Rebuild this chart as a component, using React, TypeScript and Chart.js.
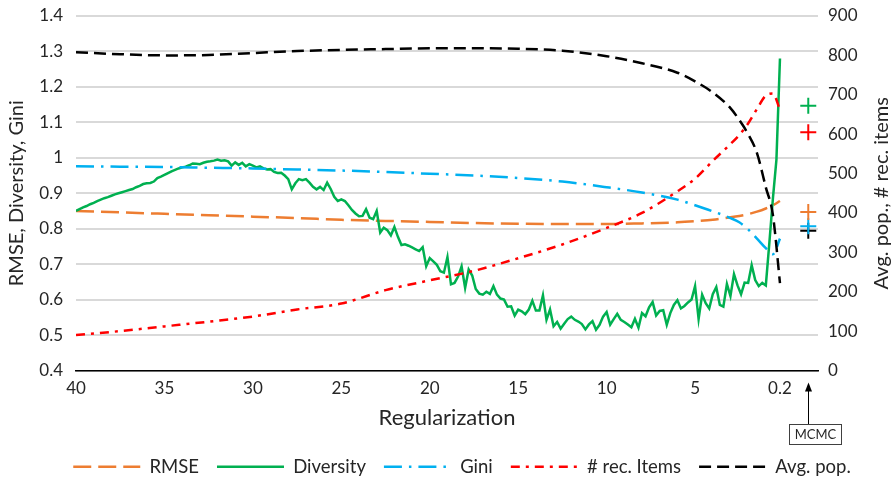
import React, { useEffect, useRef } from "react";
import { Chart, registerables } from "chart.js";

Chart.register(...registerables);

// Regularization values at which the smooth metrics were sampled
const REG_STEPS = [40, 37.5, 35, 32.5, 30, 27.5, 25, 22.5, 20, 17.5, 15, 12.5, 10, 8, 6, 5, 4, 3, 2.5, 2, 1.5, 1, 0.6, 0.2];

const RMSE = [0.85, 0.846, 0.842, 0.838, 0.834, 0.83, 0.825, 0.822, 0.819, 0.816, 0.814, 0.813, 0.813, 0.815, 0.818, 0.821, 0.825, 0.832, 0.836, 0.841, 0.848, 0.857, 0.866, 0.878];
const GINI = [0.976, 0.975, 0.974, 0.972, 0.97, 0.967, 0.964, 0.96, 0.955, 0.95, 0.943, 0.933, 0.917, 0.902, 0.882, 0.866, 0.849, 0.83, 0.818, 0.798, 0.772, 0.745, 0.728, 0.772];
const REC_ITEMS = [90, 100, 112, 124, 137, 155, 170, 204, 229, 253, 285, 320, 362, 400, 455, 487, 532, 575, 598, 627, 664, 698, 703, 662];
const AVG_POP = [808, 803, 800, 801, 806, 811, 814, 816, 818, 818, 817, 812, 798, 780, 756, 734, 706, 666, 636, 600, 552, 465, 395, 222];

// Diversity is sampled on the full grid: 40, 39.8, ..., 0.2
const DIV_START = 40;
const DIV_STEP = 0.2;
const DIVERSITY = [
  0.85, 0.855, 0.86, 0.864, 0.869, 0.873, 0.878, 0.882, 0.886, 0.889,
  0.893, 0.897, 0.9, 0.903, 0.906, 0.909, 0.912, 0.917, 0.921, 0.926,
  0.928, 0.929, 0.933, 0.943, 0.947, 0.952, 0.957, 0.962, 0.966, 0.97,
  0.973, 0.975, 0.979, 0.984, 0.983, 0.982, 0.986, 0.989, 0.99, 0.992,
  0.995, 0.992, 0.993, 0.99, 0.978, 0.987, 0.98, 0.986, 0.976, 0.982,
  0.978, 0.973, 0.976, 0.97, 0.967, 0.968, 0.96, 0.957, 0.958, 0.95,
  0.94, 0.911, 0.928, 0.94, 0.937, 0.94, 0.93, 0.918, 0.911, 0.918,
  0.909, 0.93, 0.912, 0.89, 0.878, 0.883, 0.878, 0.866, 0.853, 0.843,
  0.835, 0.836, 0.855, 0.831, 0.827, 0.85, 0.789, 0.803, 0.796, 0.781,
  0.805, 0.777, 0.754, 0.756, 0.752, 0.747, 0.742, 0.737, 0.748, 0.694,
  0.717, 0.708, 0.698, 0.68, 0.676, 0.72, 0.643, 0.647, 0.665, 0.694,
  0.633, 0.685, 0.668, 0.63, 0.617, 0.614, 0.622, 0.616, 0.638, 0.614,
  0.603, 0.6, 0.58, 0.581, 0.555, 0.572, 0.567, 0.559, 0.572, 0.597,
  0.569, 0.569, 0.612, 0.543, 0.572, 0.525, 0.537, 0.518, 0.532, 0.545,
  0.552, 0.543, 0.538, 0.531, 0.516, 0.53, 0.539, 0.515, 0.529, 0.552,
  0.565, 0.529, 0.545, 0.56, 0.543, 0.537, 0.53, 0.522, 0.546, 0.521,
  0.562, 0.553, 0.578, 0.593, 0.555, 0.568, 0.57, 0.529, 0.562, 0.585,
  0.598, 0.575, 0.582, 0.592, 0.6, 0.638, 0.545, 0.614, 0.59, 0.575,
  0.615, 0.635, 0.585, 0.58, 0.644, 0.61, 0.672, 0.64, 0.615, 0.648,
  0.647, 0.697, 0.655, 0.638, 0.647, 0.64, 0.76, 0.885, 0.995, 1.28,
];

const X_TICKS = [40, 35, 30, 25, 20, 15, 10, 5, 0.2];

// MCMC reference results, placed to the right of the regularization sweep
const MCMC_X = -1.4;
const MCMC_RMSE = 0.847;
const MCMC_DIVERSITY = 1.147;
const MCMC_GINI = 0.807;
const MCMC_REC_ITEMS = 605;
const MCMC_AVG_POP = 355;

const FONT = "Lato, 'Liberation Sans', sans-serif";
const TEXT = "#262626";

const ORANGE = "#ED7D31";
const GREEN = "#00B050";
const BLUE = "#00B0F0";
const RED = "#FF0000";
const BLACK = "#000000";

const pairs = (xs: number[], ys: number[]) => ys.map((y, i) => ({ x: xs[i], y }));

const extras = {
  id: "extras",
  afterLayout(chart: any) {
    // nudge the legend row a little to the right
    const lg = chart.legend;
    if (lg) {
      lg.left += 15;
      lg.right += 15;
    }
  },
  afterDraw(chart: any) {
    const { ctx, chartArea, scales } = chart;
    ctx.save();
    // right axis title, reading bottom to top
    ctx.fillStyle = TEXT;
    ctx.font = `20px ${FONT}`;
    ctx.textAlign = "center";
    ctx.textBaseline = "middle";
    ctx.translate(882, (chartArea.top + chartArea.bottom) / 2);
    ctx.rotate(-Math.PI / 2);
    ctx.fillText("Avg. pop., # rec. items", 0, 0);
    ctx.restore();

    // MCMC pointer
    const x = Math.round(scales.x.getPixelForValue(MCMC_X)) + 0.5;
    const y0 = chartArea.bottom;
    ctx.save();
    ctx.strokeStyle = "#000";
    ctx.fillStyle = "#000";
    ctx.lineWidth = 1;
    ctx.beginPath();
    ctx.moveTo(x, y0 + 54);
    ctx.lineTo(x, y0 + 18);
    ctx.stroke();
    ctx.beginPath();
    ctx.moveTo(x, y0 + 12);
    ctx.lineTo(x - 3.5, y0 + 21);
    ctx.lineTo(x + 3.5, y0 + 21);
    ctx.closePath();
    ctx.fill();
    ctx.strokeStyle = "#404040";
    ctx.strokeRect(x - 19, y0 + 54, 52, 20);
    ctx.fillStyle = TEXT;
    ctx.font = `13px ${FONT}`;
    ctx.textAlign = "center";
    ctx.textBaseline = "middle";
    ctx.fillText("MCMC", x + 7, y0 + 64.5);
    ctx.restore();
  },
};

const fixVertical = (width: number) => (s: any) => {
  s.width = width;
  s.paddingTop = 0;
  s.paddingBottom = 0;
};

export default function App() {
  const canvasRef = useRef<HTMLCanvasElement | null>(null);

  useEffect(() => {
    const canvas = canvasRef.current;
    if (!canvas) return;

    const divX = DIVERSITY.map((_, i) => +(DIV_START - i * DIV_STEP).toFixed(1));

    const line = (label: string, data: any[], color: string, dash: number[], axis: string, order: number, smooth: boolean) => ({
      type: "line" as const,
      label,
      data,
      yAxisID: axis,
      borderColor: color,
      backgroundColor: color,
      borderWidth: 2.5,
      borderDash: dash,
      borderCapStyle: "butt" as const,
      pointRadius: 0,
      pointHoverRadius: 0,
      fill: false,
      tension: 0,
      cubicInterpolationMode: smooth ? ("monotone" as const) : ("default" as const),
      order,
    });

    const cross = (label: string, value: number, color: string, axis: string) => ({
      type: "scatter" as const,
      label,
      data: [{ x: MCMC_X, y: value }],
      yAxisID: axis,
      borderColor: color,
      backgroundColor: color,
      pointStyle: "cross" as const,
      pointRadius: 8,
      pointBorderWidth: 2,
      showLine: false,
      order: 0,
    });

    const chart = new Chart(canvas, {
      type: "line",
      data: {
        datasets: [
          line("RMSE", pairs(REG_STEPS, RMSE), ORANGE, [18, 7], "y", 10, true),
          line("Diversity", pairs(divX, DIVERSITY), GREEN, [], "y", 9, false),
          line("Gini", pairs(REG_STEPS, GINI), BLUE, [18, 7, 2.5, 7], "y", 8, true),
          line("# rec. Items", pairs(REG_STEPS, REC_ITEMS), RED, [9, 6, 3, 6], "y2", 7, true),
          line("Avg. pop.", pairs(REG_STEPS, AVG_POP), BLACK, [12, 6], "y2", 6, true),
          cross("MCMC RMSE", MCMC_RMSE, ORANGE, "y"),
          cross("MCMC Diversity", MCMC_DIVERSITY, GREEN, "y"),
          cross("MCMC Gini", MCMC_GINI, BLUE, "y"),
          cross("MCMC # rec. Items", MCMC_REC_ITEMS, RED, "y2"),
          cross("MCMC Avg. pop.", MCMC_AVG_POP, BLACK, "y2"),
        ] as any,
      },
      options: {
        animation: false,
        responsive: true,
        maintainAspectRatio: false,
        layout: { padding: { top: 16, left: 0, right: 0, bottom: -8 } },
        plugins: {
          tooltip: { enabled: false },
          legend: {
            position: "bottom",
            labels: {
              usePointStyle: true,
              pointStyleWidth: 67,
              padding: 18,
              color: TEXT,
              font: { family: FONT, size: 18.5 },
              generateLabels: (c: any) =>
                c.data.datasets.slice(0, 5).map((ds: any, i: number) => ({
                  text: ds.label,
                  strokeStyle: ds.borderColor,
                  fillStyle: ds.borderColor,
                  lineWidth: ds.borderWidth,
                  lineDash: ds.borderDash,
                  lineCap: "butt",
                  pointStyle: "line",
                  hidden: false,
                  datasetIndex: i,
                  fontColor: TEXT,
                })),
            },
          },
        },
        scales: {
          x: {
            type: "linear",
            reverse: true,
            min: -1.95,
            max: 40,
            afterBuildTicks: (s: any) => {
              s.ticks = X_TICKS.map((v) => ({ value: v }));
            },
            afterFit: (s: any) => {
              s.height = 69;
            },
            grid: { display: false, drawTicks: false },
            border: { display: true, color: "#000", width: 1.5 },
            ticks: {
              padding: 8,
              maxRotation: 0,
              autoSkip: false,
              color: TEXT,
              font: { family: FONT, size: 17 },
              callback: (v: any) => String(v),
            },
            title: {
              display: true,
              text: "Regularization",
              color: TEXT,
              font: { family: FONT, size: 22 },
              padding: { top: 0, bottom: 8 },
            },
          },
          y: {
            position: "left",
            min: 0.4,
            max: 1.4,
            afterFit: fixVertical(76),
            grid: { color: "#d9d9d9", lineWidth: 2, drawTicks: false },
            border: { display: false },
            ticks: {
              stepSize: 0.1,
              padding: 13,
              color: TEXT,
              font: { family: FONT, size: 17 },
              callback: (v: any) => String(Math.round(Number(v) * 10) / 10),
            },
            title: {
              display: true,
              text: "RMSE, Diversity, Gini",
              color: TEXT,
              font: { family: FONT, size: 20 },
              padding: { top: 5, bottom: 0 },
            },
          },
          y2: {
            position: "right",
            min: 0,
            max: 900,
            afterFit: fixVertical(76),
            grid: { display: false, drawTicks: false },
            border: { display: false },
            ticks: {
              stepSize: 100,
              padding: 10,
              color: TEXT,
              font: { family: FONT, size: 17 },
            },
          },
        },
      } as any,
      plugins: [extras],
    });

    return () => chart.destroy();
  }, []);

  return (
    <div style={{ position: "fixed", left: 0, top: 0, width: 894, height: 478, background: "#fff" }}>
      <canvas ref={canvasRef} />
    </div>
  );
}
